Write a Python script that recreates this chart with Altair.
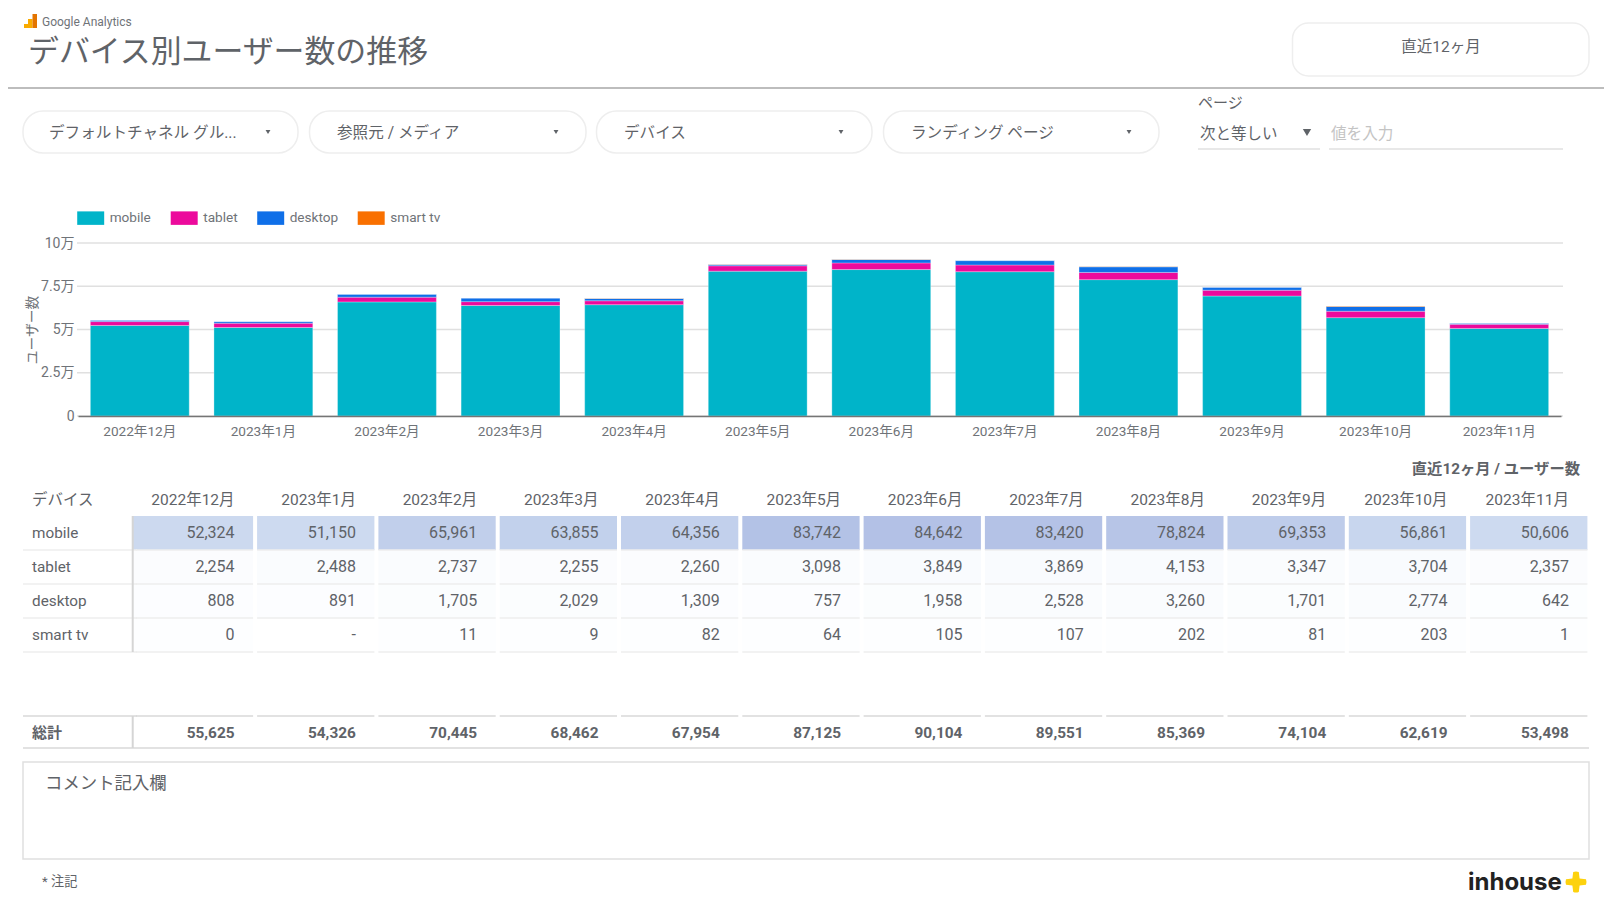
import altair as alt
import pandas as pd

months = ["2022年12月","2023年1月","2023年2月","2023年3月","2023年4月","2023年5月","2023年6月","2023年7月","2023年8月","2023年9月","2023年10月","2023年11月"]
devices = ["mobile","tablet","desktop","smart tv"]
mobile = [52324,51150,65961,63855,64356,83742,84642,83420,78824,69353,56861,50606]
tablet = [2254,2488,2737,2255,2260,3098,3849,3869,4153,3347,3704,2357]
desktop = [808,891,1705,2029,1309,757,1958,2528,3260,1701,2774,642]
smart_tv = [0,None,11,9,82,64,105,107,202,81,203,1]
totals = [55625,54326,70445,68462,67954,87125,90104,89551,85369,74104,62619,53498]
colors = ["#00b4c9","#ec0a9c","#0f6fe8","#f97000"]
y_ticks = [0,25000,50000,75000,100000]
filters = ["デフォルトチャネル グル...","参照元 / メディア","デバイス","ランディング ページ"]

FONT = "Roboto, 'Noto Sans CJK JP', sans-serif"
TXT = "#5f6368"
series = [mobile, tablet, desktop, smart_tv]
rows = []
for o, (d, s) in enumerate(zip(devices, series)):
    for m, v in zip(months, s):
        rows.append({"month": m, "device": d, "order": o, "value": v,
                     "label": "-" if v is None else f"{v:,}"})
long = pd.DataFrame(rows)
total_df = pd.DataFrame({"month": months, "value": totals, "label": [f"{v:,}" for v in totals]})
one = pd.DataFrame({"a": [0]})

def px(v):
    return alt.value(v - 8)

def label(text, x, y, size=14, color=TXT, align="left", weight="normal", angle=0, font=FONT):
    return alt.Chart(pd.DataFrame({"t": [text]})).mark_text(
        font=font, fontSize=size, color=color, align=align, baseline="middle",
        fontWeight=weight, angle=angle).encode(x=px(x), y=px(y), text="t:N")

def box(x1, y1, x2, y2, fill="white", stroke=None, sw=1.5, r=0):
    kw = dict(fill=fill, cornerRadius=r)
    if stroke:
        kw.update(stroke=stroke, strokeWidth=sw)
    return alt.Chart(one).mark_rect(**kw).encode(x=px(x1), x2=px(x2), y=px(y1), y2=px(y2))

def hline(x1, x2, y, color="#e0e0e0", sw=1.5):
    return alt.Chart(one).mark_rule(color=color, strokeWidth=sw).encode(x=px(x1), x2=px(x2), y=px(y))

def vline(x, y1, y2, color="#d5d5d5", sw=2):
    return alt.Chart(one).mark_rule(color=color, strokeWidth=sw).encode(x=px(x), y=px(y1), y2=px(y2))

def tri(x, y, size=22, color="#5f6368"):
    return alt.Chart(one).mark_point(shape="triangle-down", filled=True, color=color, size=size, opacity=1).encode(x=px(x), y=px(y))

layers = []
# header
layers += [
    box(24, 24, 28, 28, fill="#f9ab00"),
    box(28, 19, 32.5, 28, fill="#f9ab00"),
    box(32.5, 14, 37, 28, fill="#e37400"),
    label("Google Analytics", 42, 22, size=12, color="#6f7378"),
    label("デバイス別ユーザー数の推移", 28, 53, size=30.9),
    hline(0, 1604, 88, color="#bdbdbd", sw=2),
    box(1292.5, 23, 1589, 76, stroke="#eeeeee", r=16),
    label("直近12ヶ月", 1441, 46.5, size=15.5, align="center"),
]
# filters
fx = [(23, 298, 49, 268), (309.5, 586, 337, 556), (596.5, 872, 624, 841), (883.5, 1159, 911, 1129)]
for f, (a, b, t, c) in zip(filters, fx):
    layers += [box(a, 111, b, 153, stroke="#eeeeee", r=20), label(f, t, 133, size=15.6), tri(c, 132, size=24)]
layers += [
    label("ページ", 1198, 103, size=15),
    label("次と等しい", 1200, 134, size=15.5),
    tri(1307, 132.5, size=70),
    hline(1198, 1320, 149),
    label("値を入力", 1331, 134, size=15.6, color="#c4c4c4"),
    hline(1329, 1563, 149),
]
# bar chart
y_scale = alt.Scale(domain=[0, 100000], range=[416 - 8, 243 - 8])
x_bar = alt.Scale(domain=months, range=[70, 1553], paddingInner=0.2, paddingOuter=0.1)
layers.append(alt.Chart(pd.DataFrame({"tick": y_ticks})).mark_rule(color="#e0e0e0", strokeWidth=1.3).encode(
    y=alt.Y("tick:Q", scale=y_scale, axis=None), x=px(77), x2=px(1563)))
bars = alt.Chart(long.dropna(subset=["value"])).mark_bar(stroke="white", strokeWidth=0.3).encode(
    x=alt.X("month:N", sort=months, scale=x_bar, title=None,
            axis=alt.Axis(offset=-(889 - 408), labelAngle=0, labelFontSize=13.6, labelFont=FONT, labelColor="#6f7378",
                          domainColor="#757575", domainWidth=1.6, ticks=False, labelPadding=8, zindex=1)),
    y=alt.Y("value:Q", stack="zero", scale=y_scale, title="ユーザー数",
            axis=alt.Axis(offset=-69, values=y_ticks, grid=False, domain=False, ticks=False, labelFontSize=14, labelFont=FONT,
                          labelColor="#6f7378", labelPadding=3, titleFont=FONT, titleFontSize=13.8, titleFontWeight="normal",
                          titleColor="#6f7378", titlePadding=1,
                          labelExpr="datum.value == 0 ? '0' : (datum.value / 10000) + '万'")),
    color=alt.Color("device:N", scale=alt.Scale(domain=devices, range=colors), sort=devices,
                    legend=alt.Legend(orient="none", legendX=75.7, legendY=203, direction="horizontal", columns=4, title=None,
                                      symbolType="M-2,-1H2V1H-2Z", symbolSize=182, symbolStrokeWidth=0, symbolOpacity=1,
                                      labelFont=FONT, labelFontSize=13.6, labelColor="#6f7378", labelOffset=12, columnPadding=18.5)),
    order=alt.Order("order:Q"),
)
layers.append(bars)
# table
BAND_RIGHT = 58.65 - 18.5
heat = alt.Scale(domain=[0, 90000], range=["#fdfeff", "#afbde4"])
x_tab = alt.Scale(domain=months, range=[127.8, 1579.4], paddingInner=0.033, paddingOuter=0)
x_txt = alt.Scale(domain=months, range=[125.8, 1581.4], paddingInner=0.033, paddingOuter=0)
y_tab = alt.Scale(domain=devices, range=[508, 644], paddingInner=0, paddingOuter=0)
X = alt.X("month:N", sort=months, scale=x_tab, axis=None)
XT = alt.X("month:N", sort=months, scale=x_txt, axis=None)
Y = alt.Y("device:N", sort=devices, scale=y_tab, axis=None)
Yb = alt.Y("device:N", sort=devices, scale=y_tab, axis=None, bandPosition=1)
layers += [
    label("直近12ヶ月 / ユーザー数", 1580, 468.5, size=15.3, align="right", weight="bold"),
    label("デバイス", 32, 500, size=15.5),
    alt.Chart(pd.DataFrame({"month": months})).mark_text(font=FONT, fontSize=15.5, color=TXT, align="right", baseline="middle", dx=BAND_RIGHT).encode(
        x=XT, y=px(500), text="month:N"),
    alt.Chart(long).mark_rect().encode(
        x=X, y=Y, color=alt.Color("value:Q", scale=heat, legend=None)),
    alt.Chart(long[long["month"] == months[0]]).mark_rect().encode(
        x=px(133), x2=px(137), y=Y, color=alt.Color("value:Q", scale=heat, legend=None)),
    alt.Chart(long).mark_tick(size=117.3, thickness=1.5, color="#eeeeee", opacity=1, orient="horizontal", yOffset=17).encode(x=X, y=Y),
    alt.Chart(pd.DataFrame({"device": devices})).mark_rule(color="#eeeeee", strokeWidth=1.5).encode(y=Yb, x=px(23), x2=px(137)),
    alt.Chart(pd.DataFrame({"device": devices})).mark_text(font=FONT, fontSize=15.3, color=TXT, align="left", baseline="middle", dy=0.2).encode(
        x=px(32), y=Y, text="device:N"),
    alt.Chart(long).mark_text(font=FONT, fontSize=16, color=TXT, align="right", baseline="middle", dx=BAND_RIGHT, dy=0.2).encode(
        x=XT, y=Y, text="label:N"),
    vline(132.7, 516, 652),
]
# totals
layers += [
    alt.Chart(total_df).mark_tick(size=117.3, thickness=1.5, color="#d9d9d9", opacity=1, orient="horizontal").encode(x=X, y=px(716)),
    hline(23, 137, 716, color="#d9d9d9"),
    hline(23, 1589, 748, color="#d9d9d9"),
    vline(132.7, 716, 748),
    label("総計", 32, 732.5, size=15, weight="bold"),
    alt.Chart(total_df).mark_text(font=FONT, fontSize=15.4, fontWeight="bold", color=TXT, align="right", baseline="middle", dx=BAND_RIGHT).encode(
        x=XT, y=px(733), text="label:N"),
]
# comment and footer
layers += [
    box(23, 762, 1589, 859, stroke="#e0e0e0", sw=1.5),
    label("コメント記入欄", 45, 784, size=17.4),
    label("* 注記", 42, 882, size=13.2),
    label("inhouse", 1468, 883, size=24, color="#222222", weight="bold", font="Inter, Roboto, sans-serif"),
    alt.Chart(one).mark_point(filled=True, opacity=1, color="#fdd20e", size=400,
                              shape="M-.28,-1Q0,-1.1 .28,-1L.36,-.36L1,-.28Q1.1,0 1,.28L.36,.36L.28,1Q0,1.1 -.28,1L-.36,.36L-1,.28Q-1.1,0 -1,-.28L-.36,-.36Z"
                              ).encode(x=px(1576), y=px(882)),
]

chart = alt.layer(*layers).resolve_scale(x="independent", y="independent", color="independent").properties(
    width=1596, height=889, autosize=alt.AutoSizeParams(type="none"), padding=0, background="white"
).configure_view(stroke=None)

chart.save("out.html", embed_options={"renderer": "svg", "actions": False})
